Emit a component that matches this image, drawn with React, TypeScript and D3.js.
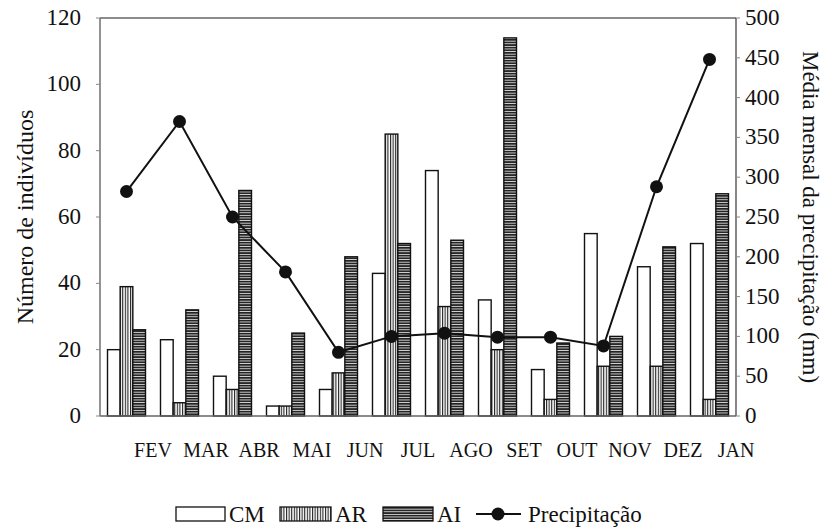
import React from "react";
import * as d3 from "d3";

const months = ["FEV", "MAR", "ABR", "MAI", "JUN", "JUL", "AGO", "SET", "OUT", "NOV", "DEZ", "JAN"];
const cm = [20, 23, 12, 3, 8, 43, 74, 35, 14, 55, 45, 52];
const ar = [39, 4, 8, 3, 13, 85, 33, 20, 5, 15, 15, 5];
const ai = [26, 32, 68, 25, 48, 52, 53, 114, 22, 24, 51, 67];
const precip = [282, 370, 250, 181, 80, 100, 104, 99, 99, 88, 288, 448];
const leftTicks = [0, 20, 40, 60, 80, 100, 120];
const rightTicks = [0, 50, 100, 150, 200, 250, 300, 350, 400, 450, 500];
const seriesNames = ["CM", "AR", "AI"];

export default function App() {
  const W = 827, H = 531;
  const left = 100, right = 736, top = 18, bottom = 416;
  const x = d3.scaleBand<string>().domain(months).range([left, right]).paddingInner(0.283).paddingOuter(0.1415);
  const xs = d3.scaleBand<string>().domain(seriesNames).range([0, x.bandwidth()]);
  const yL = d3.scaleLinear().domain([0, 120]).range([bottom, top]);
  const yR = d3.scaleLinear().domain([0, 500]).range([bottom, top]);
  const series = [cm, ar, ai];
  const fills = ["#fff", "url(#patAR)", "url(#patAI)"];
  const line = d3.line<number>()
    .x((_, i) => (x(months[i]) as number) + x.bandwidth() / 2)
    .y((d) => yR(d));
  const stepEnd = (m: string) => (x(m) as number) - (x.step() * x.paddingInner()) / 2 + x.step();

  const legendY = 514;
  return (
    <svg width={W} height={H} style={{ position: "absolute", left: 0, top: 0, background: "#fff" }}>
      <style>{`.tx { font-family: "Liberation Serif", "Times New Roman", Times, serif !important; fill: #111; }`}</style>
      <defs>
        <pattern id="patAR" width="2.6" height="4" patternUnits="userSpaceOnUse">
          <rect width="2.6" height="4" fill="#fff" />
          <rect width="1.1" height="4" fill="#222" />
        </pattern>
        <pattern id="patAI" width="4" height="2.6" patternUnits="userSpaceOnUse">
          <rect width="4" height="2.6" fill="#ddd" />
          <rect width="4" height="1.7" fill="#222" />
        </pattern>
      </defs>
      <line x1={left} x2={right} y1={top} y2={top} stroke="#666" strokeWidth={1.4} />
      <line x1={left} x2={left} y1={top} y2={bottom} stroke="#666" strokeWidth={1.4} />
      <line x1={right} x2={right} y1={top} y2={bottom} stroke="#444" strokeWidth={1.3} />
      {months.map((m, i) => (
        <g key={m}>
          {series.map((s, j) => (
            <rect
              key={j}
              x={(x(m) as number) + (xs(seriesNames[j]) as number)}
              y={yL(s[i])}
              width={xs.bandwidth()}
              height={bottom - yL(s[i])}
              fill={fills[j]}
              stroke="#111"
              strokeWidth={1.4}
            />
          ))}
        </g>
      ))}
      <line x1={left} x2={right} y1={bottom} y2={bottom} stroke="#666" strokeWidth={1.4} />
      {leftTicks.map((t) => (
        <g key={"l" + t}>
          <line x1={left - 4} x2={left} y1={yL(t)} y2={yL(t)} stroke="#888" />
          <text className="tx" x={81} y={yL(t) + 7} textAnchor="end" fontSize={23}>{t}</text>
        </g>
      ))}
      {rightTicks.map((t) => (
        <g key={"r" + t}>
          <line x1={right} x2={right + 4} y1={yR(t)} y2={yR(t)} stroke="#888" />
          <text className="tx" x={745} y={yR(t) + 7} textAnchor="start" fontSize={23}>{t}</text>
        </g>
      ))}
      {months.map((m) => (
        <text className="tx" key={"m" + m} x={stepEnd(m)} y={457} textAnchor="middle" fontSize={20}>{m}</text>
      ))}
      <text className="tx" transform={`translate(33,${(top + bottom) / 2}) rotate(-90)`} textAnchor="middle" fontSize={24}>
        Número de indivíduos
      </text>
      <text className="tx" transform={`translate(803,${(top + bottom) / 2}) rotate(90)`} textAnchor="middle" fontSize={23}>
        Média mensal da precipitação (mm)
      </text>
      <path d={line(precip) || ""} fill="none" stroke="#111" strokeWidth={2} />
      {precip.map((p, i) => (
        <circle key={"p" + i} cx={(x(months[i]) as number) + x.bandwidth() / 2} cy={yR(p)} r={6.5} fill="#111" />
      ))}
      <rect x={176} y={legendY - 7} width={49} height={14} fill="#fff" stroke="#111" strokeWidth={1.3} />
      <text className="tx" x={229} y={legendY + 8} fontSize={23}>CM</text>
      <rect x={280} y={legendY - 7} width={51} height={14} fill="url(#patAR)" stroke="#111" strokeWidth={1.3} />
      <text className="tx" x={335} y={legendY + 8} fontSize={23}>AR</text>
      <rect x={383} y={legendY - 7} width={50} height={14} fill="url(#patAI)" stroke="#111" strokeWidth={1.3} />
      <text className="tx" x={437} y={legendY + 8} fontSize={23}>AI</text>
      <line x1={476} x2={521} y1={legendY} y2={legendY} stroke="#111" strokeWidth={2} />
      <circle cx={498} cy={legendY} r={6.5} fill="#111" />
      <text className="tx" x={528} y={legendY + 8} fontSize={23}>Precipitação</text>
    </svg>
  );
}
